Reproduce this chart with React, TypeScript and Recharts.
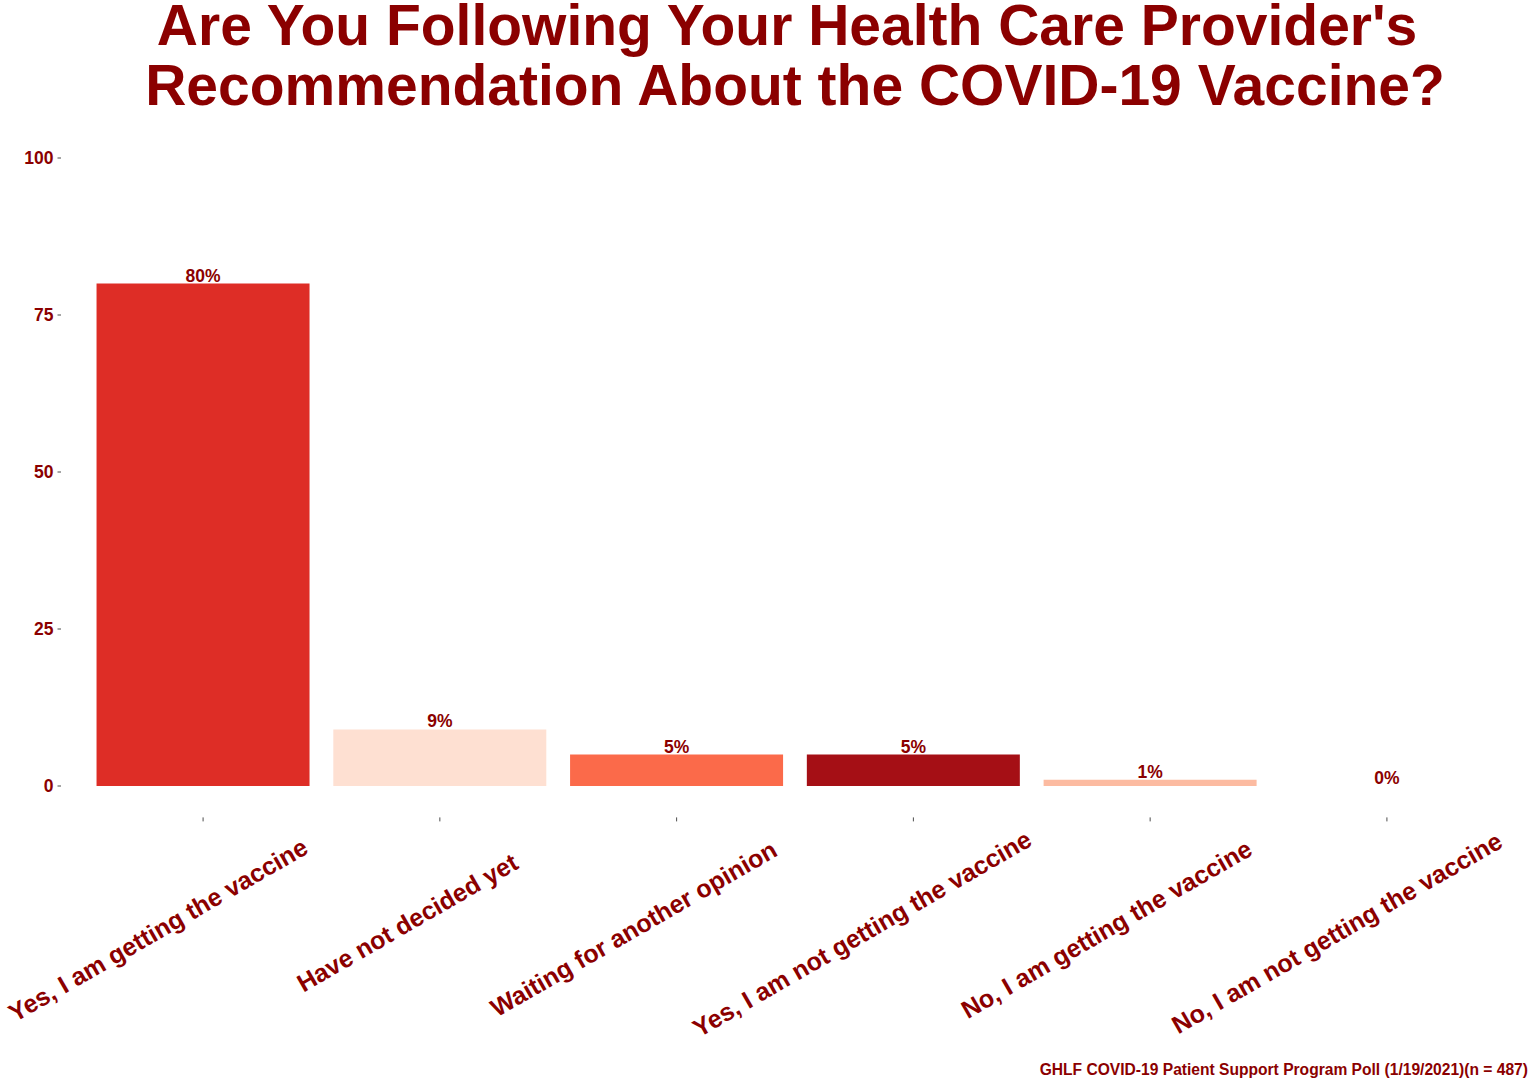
import { Bar, Cell, ComposedChart, Line, XAxis, YAxis } from 'recharts';

const categories = [
  'Yes, I am getting the vaccine',
  'Have not decided yet',
  'Waiting for another opinion',
  'Yes, I am not getting the vaccine',
  'No, I am getting the vaccine',
  'No, I am not getting the vaccine',
];
const percents = [80, 9, 5, 5, 1, 0];
const barColors = ['#DE2D26', '#FEE0D2', '#FB6A4A', '#A50F15', '#FCBBA1', '#FFF5F0'];
const yTicks = [0, 25, 50, 75, 100];

const titleLines = ["Are You Following Your Health Care Provider's", 'Recommendation About the COVID-19 Vaccine?'];
const caption = 'GHLF COVID-19 Patient Support Program Poll (1/19/2021)(n = 487)';

const data = categories.map((name, i) => ({ name, value: percents[i] }));

const darkRed = '#8B0000';
const font = '"Liberation Sans", Arial, sans-serif';
const xLabelSize = 25;
const titleSize = 57;

let ctx: CanvasRenderingContext2D | null = null;
function textWidth(s: string, size: number) {
  if (!ctx) ctx = document.createElement('canvas').getContext('2d');
  if (!ctx) return s.length * size * 0.5;
  ctx.font = `bold ${size}px ${font}`;
  return ctx.measureText(s).width;
}

// rotated category label, anchored about 2/3 along the text
function XTick({ x, y, payload }: any) {
  const label = String(payload.value);
  const w = textWidth(label, xLabelSize);
  return (
    <g transform={`translate(${x + 2},${y + 79}) rotate(-30)`}>
      <text
        x={-0.66 * w}
        y={0}
        dominantBaseline="central"
        fill={darkRed}
        fontSize={xLabelSize}
        fontWeight="bold"
        fontFamily={font}
      >
        {label}
      </text>
    </g>
  );
}

// labels sit on the invisible line so zero-height bars still get one
function ValueLabel({ x, y, value }: any) {
  return (
    <text
      x={x}
      y={y - 2}
      textAnchor="middle"
      fill={darkRed}
      fontSize={17.5}
      fontWeight="bold"
      fontFamily={font}
    >
      {value}%
    </text>
  );
}

export default function App() {
  // first title line is centred as if it had a trailing space
  const spaceShift = textWidth(' ', titleSize) / 2;
  return (
    <div style={{ position: 'absolute', left: 0, top: 0, width: 1536, height: 1084, background: '#fff', fontFamily: font }}>
      <ComposedChart
        width={1536}
        height={1084}
        data={data}
        margin={{ top: 126.6, right: 7, bottom: 0, left: 0 }}
        barCategoryGap="5%"
      >
        <XAxis
          dataKey="name"
          type="category"
          interval={0}
          padding={{ left: 23.7, right: 23.7 }}
          height={266.6}
          axisLine={false}
          tickSize={4}
          tickMargin={2}
          tickLine={{ stroke: '#4d4d4d' }}
          tick={<XTick />}
        />
        <YAxis
          type="number"
          domain={[-5, 105]}
          ticks={yTicks}
          width={61}
          axisLine={false}
          tickSize={3.5}
          tickMargin={4}
          tickLine={{ stroke: '#4d4d4d' }}
          tick={{ fill: darkRed, fontSize: 17.5, fontWeight: 'bold', fontFamily: font }}
        />
        <Bar dataKey="value" isAnimationActive={false}>
          {data.map((_, i) => (
            <Cell key={i} fill={barColors[i]} />
          ))}
        </Bar>
        <Line
          dataKey="value"
          stroke="none"
          dot={false}
          activeDot={false}
          isAnimationActive={false}
          label={<ValueLabel />}
        />
      </ComposedChart>
      <svg style={{ position: 'absolute', left: 0, top: 0 }} width={1536} height={120}>
        {titleLines.map((t, i) => (
          <text
            key={t}
            x={795 - (i === 0 ? spaceShift : 0)}
            y={45 + i * 60}
            textAnchor="middle"
            fill={darkRed}
            fontSize={titleSize}
            fontWeight="bold"
            fontFamily={font}
          >
            {t}
          </text>
        ))}
      </svg>
      <svg style={{ position: 'absolute', left: 0, top: 1040 }} width={1536} height={44}>
        <text x={1528} y={35} textAnchor="end" fill={darkRed} fontSize={15.6} fontWeight="bold" fontFamily={font}>
          {caption}
        </text>
      </svg>
    </div>
  );
}
